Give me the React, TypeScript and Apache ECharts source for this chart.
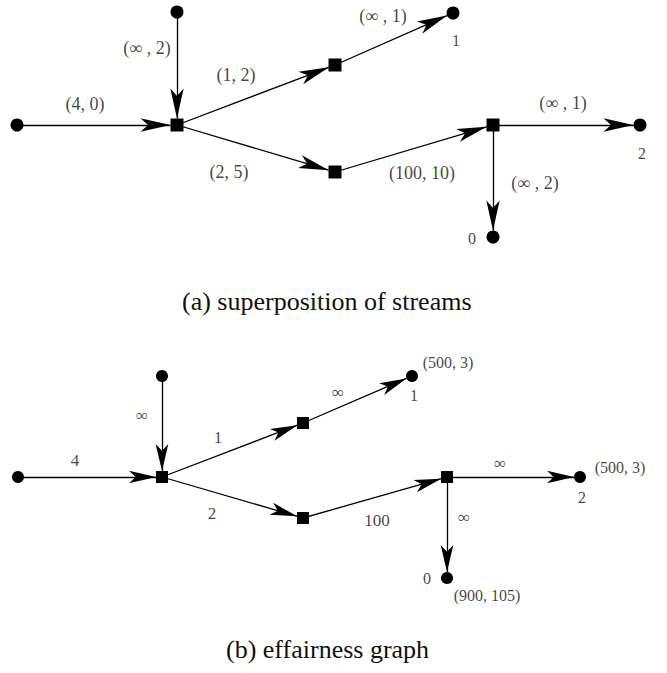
import React, { useEffect, useRef } from "react";
import * as echarts from "echarts";

// ---- shared topology ----
const nodeShapes = ["circle", "circle", "rect", "rect", "rect", "circle", "rect", "circle", "circle"];
const linkSource = [0, 1, 2, 2, 3, 4, 6, 6];
const linkTarget = [2, 2, 3, 4, 5, 6, 7, 8];

// ---- (a) superposition of streams ----
const topNodeX = [17, 177, 177, 335, 335, 453, 493, 640, 493];
const topNodeY = [125, 12, 125, 65, 172, 13, 125, 125, 237];
const topLinkLabels = ["(4, 0)", "(∞ , 2)", "(1, 2)", "(2, 5)", "(∞ , 1)", "(100, 10)", "(∞ , 1)", "(∞ , 2)"];
const topLinkLabelX = [85, 147, 236, 229, 383, 422, 563, 535];
const topLinkLabelY = [104, 48, 75, 172, 16, 173, 103, 183];
const topNodeLabels = ["1", "2", "0"];
const topNodeLabelX = [456, 642, 472];
const topNodeLabelY = [40, 153, 238];

// ---- (b) effairness graph ----
const botNodeX = [18, 162, 162, 303, 303, 412, 447, 580, 447];
const botNodeY = [477, 376, 477, 423, 518, 376, 477, 477, 578];
const botLinkLabels = ["4", "∞", "1", "2", "∞", "100", "∞", "∞"];
const botLinkLabelX = [75, 142, 218, 212, 338, 377, 500, 464];
const botLinkLabelY = [460, 415, 437, 513, 392, 520, 463, 517];
const botNodeLabels = ["1", "2", "0", "(500, 3)", "(500, 3)", "(900, 105)"];
const botNodeLabelX = [414, 582, 427, 448, 620, 487];
const botNodeLabelY = [395, 497, 578, 362, 467, 595];

const captions = ["(a) superposition of streams", "(b) effairness graph"];

const FONT = "Liberation Serif";

function graphSeries(xs: number[], ys: number[], size: number, arrow: number[]) {
  return {
    type: "graph",
    layout: "none",
    coordinateSystem: "cartesian2d",
    silent: true,
    emphasis: { disabled: true },
    symbolSize: size,
    itemStyle: { color: "#000", opacity: 1 },
    edgeSymbol: ["none", "arrow"],
    edgeSymbolSize: [0, arrow],
    lineStyle: { color: "#000", width: 1.3, opacity: 1, curveness: 0 },
    label: { show: false },
    data: xs.map((x, i) => ({ value: [x, ys[i]], symbol: nodeShapes[i] })),
    links: linkSource.map((s, i) => ({ source: s, target: linkTarget[i] })),
    z: 2,
  };
}

function textSeries(labels: string[], xs: number[], ys: number[], fontSize: number) {
  return {
    type: "scatter",
    silent: true,
    symbolSize: 1,
    itemStyle: { color: "rgba(0,0,0,0)" },
    label: {
      show: true,
      position: "inside",
      formatter: "{b}",
      fontSize,
      fontFamily: FONT,
      color: "#111",
    },
    data: labels.map((t, i) => ({ name: t, value: [xs[i], ys[i]] })),
    z: 3,
  };
}

export default function App() {
  const ref = useRef<HTMLDivElement>(null);
  useEffect(() => {
    if (!ref.current) return;
    const chart = echarts.init(ref.current, undefined, { renderer: "svg" });
    chart.setOption({
      animation: false,
      backgroundColor: "#fff",
      textStyle: { fontFamily: FONT },
      title: [
        {
          text: captions[0],
          left: 177,
          top: 283,
          textStyle: { fontSize: 26, fontWeight: "normal", fontFamily: FONT, color: "#111" },
        },
        {
          text: captions[1],
          left: 221,
          top: 631,
          textStyle: { fontSize: 26, fontWeight: "normal", fontFamily: FONT, color: "#111" },
        },
      ],
      grid: { left: 0, right: 0, top: 0, bottom: 0 },
      xAxis: { type: "value", min: 0, max: 667, show: false },
      yAxis: { type: "value", min: 0, max: 673, inverse: true, show: false },
      series: [
        graphSeries(topNodeX, topNodeY, 13, [10, 30]),
        graphSeries(botNodeX, botNodeY, 12, [9.5, 27]),
        textSeries(topLinkLabels, topLinkLabelX, topLinkLabelY, 18),
        textSeries(topNodeLabels, topNodeLabelX, topNodeLabelY, 16),
        textSeries(botLinkLabels, botLinkLabelX, botLinkLabelY, 17),
        textSeries(botNodeLabels, botNodeLabelX, botNodeLabelY, 16),
      ],
    });
    return () => chart.dispose();
  }, []);
  return (
    <div
      ref={ref}
      style={{ position: "fixed", left: 0, top: 0, width: 667, height: 673 }}
    />
  );
}
